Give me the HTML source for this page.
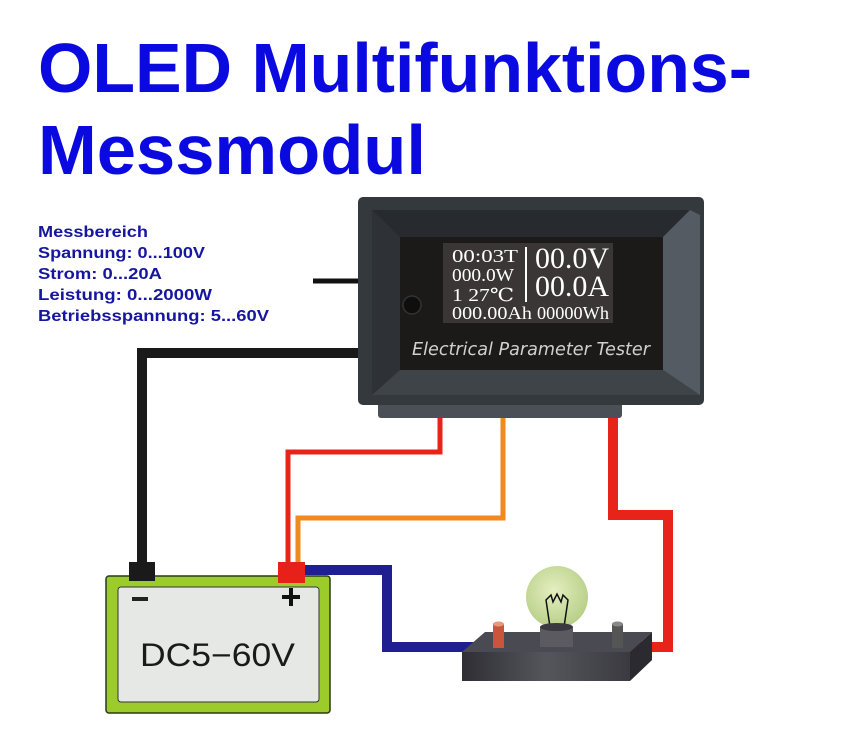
<!DOCTYPE html>
<html><head><meta charset="utf-8"><style>
html,body{margin:0;padding:0;background:#fff;width:850px;height:743px;overflow:hidden}
svg{display:block}
</style></head><body>
<svg width="850" height="743" viewBox="0 0 850 743" xmlns="http://www.w3.org/2000/svg">
<defs>
<radialGradient id="bulb" cx="45%" cy="40%" r="60%"><stop offset="0" stop-color="#e4efc0"/><stop offset="1" stop-color="#b8cf88"/></radialGradient>
<linearGradient id="base" x1="0" y1="0" x2="1" y2="0"><stop offset="0" stop-color="#2e2e34"/><stop offset="0.5" stop-color="#55555c"/><stop offset="1" stop-color="#3a3a40"/></linearGradient>
</defs>
<g font-family="Liberation Sans, Arial, sans-serif" font-weight="bold" fill="#0a0ae0">
<text x="38" y="92" font-size="70" textLength="714" lengthAdjust="spacingAndGlyphs">OLED Multifunktions-</text>
<text x="38" y="174" font-size="70" textLength="388" lengthAdjust="spacingAndGlyphs">Messmodul</text>
</g>
<g font-family="Liberation Sans, Arial, sans-serif" font-weight="bold" fill="#1616a0" font-size="16">
<text x="38" y="237" textLength="110" lengthAdjust="spacingAndGlyphs">Messbereich</text>
<text x="38" y="258" textLength="167" lengthAdjust="spacingAndGlyphs">Spannung: 0...100V</text>
<text x="38" y="279" textLength="124" lengthAdjust="spacingAndGlyphs">Strom: 0...20A</text>
<text x="38" y="300" textLength="174" lengthAdjust="spacingAndGlyphs">Leistung: 0...2000W</text>
<text x="38" y="321" textLength="231" lengthAdjust="spacingAndGlyphs">Betriebsspannung: 5...60V</text>
</g>
<!-- wires -->
<g fill="none" stroke-linejoin="miter">
<path d="M313 281 H360" stroke="#111" stroke-width="5"/>
<path d="M360 353 H142 V566" stroke="#1a1a1a" stroke-width="10"/>
<path d="M440 416 V452 H288 V566" stroke="#e8241a" stroke-width="5"/>
<path d="M503 416 V518 H298 V566" stroke="#f08a1e" stroke-width="5"/>
<path d="M613 416 V515 H668 V647 H620" stroke="#e8241a" stroke-width="10"/>
<path d="M300 570 H387 V647 H495" stroke="#1f1f90" stroke-width="10"/>
</g>
<!-- meter -->
<rect x="378" y="398" width="244" height="20" rx="3" fill="#4a5056"/>
<rect x="358" y="197" width="346" height="208" rx="5" fill="#34393e"/>
<polygon points="372,210 690,210 663,237 400,237" fill="#272a2e"/>
<polygon points="690,210 700,215 700,395 663,370 663,237" fill="#545b62"/>
<polygon points="372,210 400,237 400,370 372,395" fill="#2e3236"/>
<polygon points="400,370 663,370 700,395 372,395" fill="#3f4449"/>
<rect x="400" y="237" width="263" height="133" fill="#1c1919"/>
<rect x="443" y="243" width="170" height="80" fill="#3b3636"/>
<circle cx="412" cy="305" r="9" fill="#0e0e0e" stroke="#333" stroke-width="1.5"/>
<line x1="526" y1="247" x2="526" y2="302" stroke="#fff" stroke-width="2"/>
<g font-family="Liberation Serif, DejaVu Serif, serif" fill="#fff">
<text x="452" y="262" font-size="18" textLength="66" lengthAdjust="spacingAndGlyphs">00:03T</text>
<text x="452" y="281" font-size="18" textLength="62" lengthAdjust="spacingAndGlyphs">000.0W</text>
<text x="452" y="301" font-size="18" textLength="62" lengthAdjust="spacingAndGlyphs">1   27℃</text>
<text x="452" y="319" font-size="18" textLength="80" lengthAdjust="spacingAndGlyphs">000.00Ah</text>
<text x="537" y="319" font-size="18" textLength="72" lengthAdjust="spacingAndGlyphs">00000Wh</text>
<text x="535" y="268" font-size="30" textLength="74" lengthAdjust="spacingAndGlyphs">00.0V</text>
<text x="535" y="296" font-size="30" textLength="74" lengthAdjust="spacingAndGlyphs">00.0A</text>
</g>
<text x="412" y="355" font-family="DejaVu Sans, Liberation Sans, sans-serif" font-style="italic" font-size="18" fill="#d0d0d0" textLength="238" lengthAdjust="spacingAndGlyphs">Electrical Parameter Tester</text>
<!-- battery -->
<rect x="106" y="576" width="224" height="137" rx="3" fill="#9ccc2c" stroke="#2a3a10" stroke-width="1.5"/>
<rect x="118" y="587" width="201" height="115" rx="3" fill="#e6e8e6" stroke="#333" stroke-width="1"/>
<rect x="129" y="562" width="26" height="19" fill="#1a1a1a"/>
<rect x="278" y="562" width="27" height="21" fill="#e8201a"/>
<rect x="132" y="597" width="16" height="4" fill="#222"/>
<rect x="282" y="595" width="18" height="4" fill="#111"/>
<rect x="289" y="588" width="4" height="18" fill="#111"/>
<text x="140" y="666" font-family="Liberation Sans, Arial, sans-serif" font-size="32" fill="#1a1a1a" textLength="155" lengthAdjust="spacingAndGlyphs">DC5−60V</text>
<!-- lamp -->
<polygon points="485,632 652,632 630,652 462,652" fill="#4a4a52"/>
<rect x="462" y="652" width="168" height="29" fill="url(#base)"/>
<polygon points="630,652 652,632 652,660 630,681" fill="#2a2a30"/>
<circle cx="557" cy="597" r="31" fill="url(#bulb)"/>
<path d="M550 627 L546 600 L551 595 L553 602 L557 594 L561 602 L563 595 L568 600 L564 627" fill="none" stroke="#111" stroke-width="1.5"/>
<rect x="540" y="627" width="33" height="20" fill="#5a5a60"/>
<ellipse cx="556.5" cy="627" rx="16.5" ry="4" fill="#3a3a40"/>
<rect x="493" y="624" width="11" height="24" fill="#c9553a"/>
<ellipse cx="498.5" cy="624" rx="5.5" ry="2.5" fill="#e8987a"/>
<rect x="612" y="624" width="11" height="24" fill="#555"/>
<ellipse cx="617.5" cy="624" rx="5.5" ry="2.5" fill="#888"/>
</svg>
</body></html>
